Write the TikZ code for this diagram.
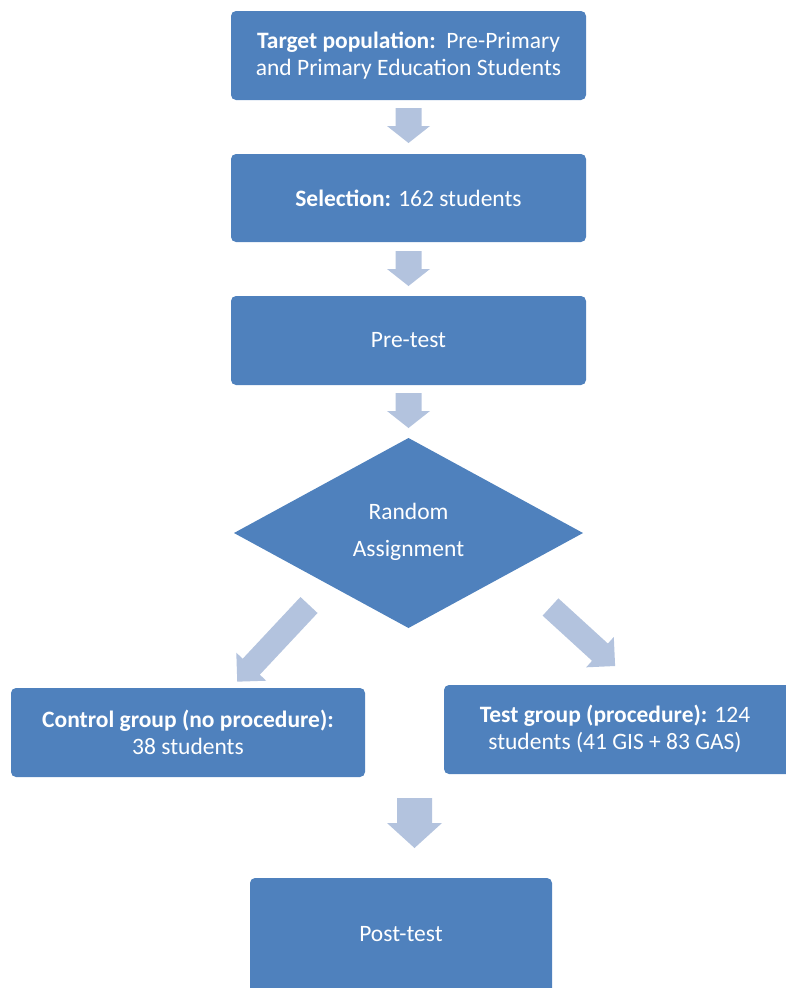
\documentclass[tikz,border=0pt]{standalone}
\usepackage{fontspec}
\setmainfont{Carlito}
\usetikzlibrary{calc}
\definecolor{boxblue}{HTML}{4F81BD}
\definecolor{arrowblue}{HTML}{B3C3DE}
\newcommand{\blockarr}[6]{%
\begin{scope}[shift={#1}, rotate=#2]
\fill[arrowblue] (0,#4) -- ({#3-#6},#4) -- ({#3-#6},#5) -- (#3,0) -- ({#3-#6},-#5) -- ({#3-#6},-#4) -- (0,-#4) -- cycle;
\end{scope}}
\tikzset{
  box/.style={fill=boxblue, rounded corners=5pt, text=white, font=\fontsize{23.5}{27}\selectfont, align=center, inner sep=0pt},
  txt/.style={text=white, font=\fontsize{23.5}{27}\selectfont, align=center, inner sep=0pt},
}
\begin{document}
\begin{tikzpicture}[x=1pt,y=-1pt]
\useasboundingbox (0,0) rectangle (786,988);
\clip (0,0) rectangle (786,988);
% boxes
\node[box, minimum width=355pt, minimum height=89pt] (target) at (408.5,55.5) {\textbf{Target population:}\ \ Pre-Primary\\and Primary Education Students};
\node[box, minimum width=355pt, minimum height=88pt] (sel) at (408.5,198) {\textbf{Selection:} 162 students};
\node[box, minimum width=355pt, minimum height=89pt] (pre) at (408.5,340.5) {Pre-test};
\fill[boxblue] (234,533) -- (408.5,438) -- (583,533) -- (408.5,628) -- cycle;
\node[txt] (rand) at (408.5,532) {Random\\[10pt]Assignment};
\node[box, minimum width=354pt, minimum height=89pt] (ctrl) at (188,732.5) {\textbf{Control group (no procedure):}\\38 students};
\fill[boxblue, rounded corners=5pt] (444,685) rectangle (800,774);
\node[txt] (test) at (615,729) {\textbf{Test group (procedure):} 124\\students (41 GIS + 83 GAS)};
\fill[boxblue, rounded corners=5pt] (250,878) rectangle (552,1000);
\node[txt] (post) at (401,934) {Post-test};
% block arrows
\blockarr{(408.5,108)}{-90}{35}{13}{21.5}{17}
\blockarr{(408.5,251)}{-90}{35}{13}{21.5}{17}
\blockarr{(408.5,393)}{-90}{35}{13}{21.5}{17}
\blockarr{(309,605)}{-133.1}{105}{11.7}{20.5}{20.5}
\blockarr{(550.5,607)}{-42.4}{87.5}{11.7}{20.5}{20.5}
\blockarr{(414.5,798)}{-90}{50}{17.5}{27.5}{25}
\end{tikzpicture}
\end{document}
